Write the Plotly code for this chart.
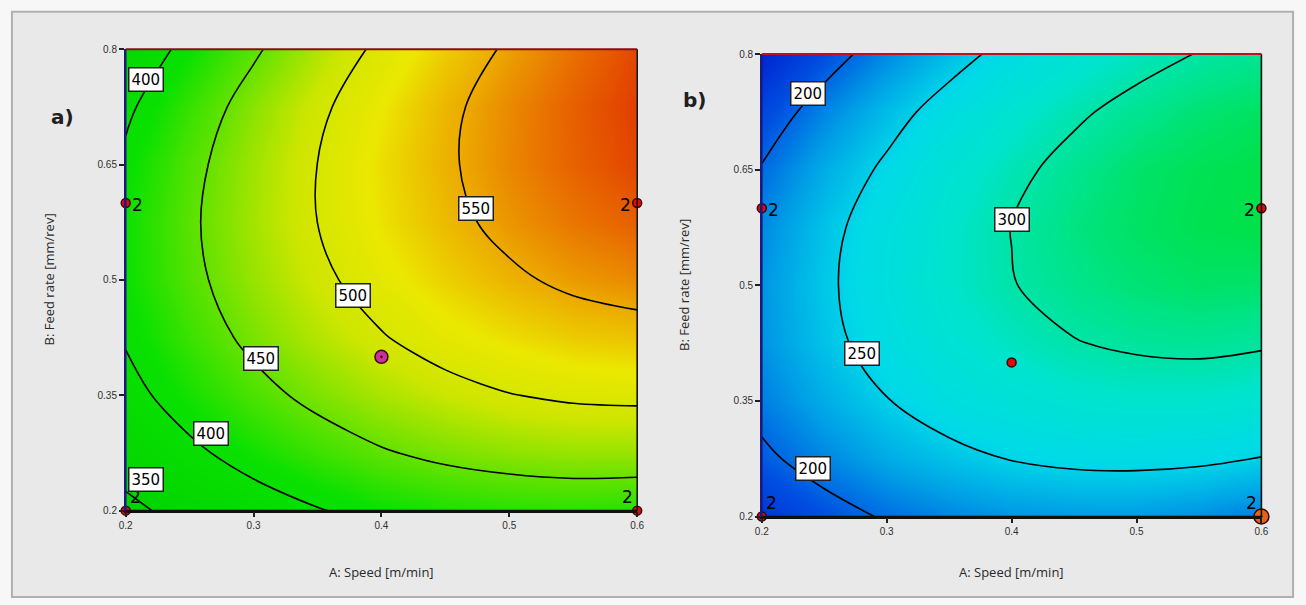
import plotly.graph_objects as go

# ---------------- data ----------------
A_LEVELS = [0.2, 0.25, 0.3, 0.35, 0.4, 0.45, 0.5, 0.55, 0.6]          # A: Speed [m/min]
B_LEVELS = [0.2, 0.275, 0.35, 0.425, 0.5, 0.575, 0.65, 0.725, 0.8]     # B: Feed rate [mm/rev]

# response a) – rows follow B_LEVELS, columns follow A_LEVELS
Z_LEFT = [
    [341, 363, 383, 398, 411, 419, 424, 426, 424],
    [368, 393, 414, 432, 447, 458, 465, 469, 469],
    [389, 416, 439, 459, 476, 489, 499, 505, 507],
    [403, 432, 458, 480, 498, 514, 525, 534, 538],
    [411, 442, 469, 493, 514, 531, 545, 556, 563],
    [412, 445, 474, 500.1, 523, 542, 558, 571, 580],
    [406, 441, 472, 500.2, 525, 546, 564, 579, 590],
    [394, 430, 464, 494, 520, 544, 563, 580, 593],
    [375, 410, 445, 478, 507, 533, 554, 573, 589],
]

# response b)
Z_RIGHT = [
    [170, 188, 203, 213, 220, 223, 223, 218, 210],
    [194, 213, 230, 242, 251, 256, 257, 255, 249],
    [210, 231, 249, 264, 274, 281, 284, 284, 280],
    [219, 242, 262, 278, 290, 299, 304, 306, 303],
    [220, 245, 267, 285, 299, 309, 316, 320, 319],
    [215, 242, 265, 284, 300.5, 313, 321, 326, 328],
    [202, 231, 255, 277, 294, 308, 319, 325, 328],
    [183, 213, 239, 262, 281, 296, 308, 317, 322],
    [156, 187, 215, 239, 260, 277, 291, 301, 308],
]

X_TICKS = [0.2, 0.3, 0.4, 0.5, 0.6]
X_TICK_TEXT = ["0.2", "0.3", "0.4", "0.5", "0.6"]
Y_TICKS = [0.2, 0.35, 0.5, 0.65, 0.8]
Y_TICK_TEXT = ["0.2", "0.35", "0.5", "0.65", "0.8"]

# design points
DESIGN_A = [0.2, 0.6, 0.4, 0.2, 0.6]
DESIGN_B = [0.6, 0.6, 0.4, 0.2, 0.2]
REPLICATES = ["2", "2", "", "2", "2"]

# contour labels: value, A, B
LEFT_LABELS_VAL = ["400", "550", "500", "450", "400", "350"]
LEFT_LABELS_A = [0.216, 0.474, 0.378, 0.306, 0.267, 0.216]
LEFT_LABELS_B = [0.760, 0.593, 0.480, 0.398, 0.300, 0.240]
RIGHT_LABELS_VAL = ["200", "300", "250", "200"]
RIGHT_LABELS_A = [0.237, 0.400, 0.280, 0.241]
RIGHT_LABELS_B = [0.749, 0.586, 0.411, 0.262]

# ---------------- styling ----------------
W, H = 1306, 605
LEFT_CS = [[0, 'rgb(0,210,0)'], [0.28, 'rgb(10,225,0)'], [0.43, 'rgb(100,226,0)'],
           [0.59, 'rgb(205,230,0)'], [0.71, 'rgb(235,232,0)'], [0.83, 'rgb(236,168,0)'],
           [0.93, 'rgb(232,105,0)'], [1, 'rgb(225,60,0)']]
RIGHT_CS = [[0, 'rgb(0,35,210)'], [0.2, 'rgb(0,80,225)'], [0.4, 'rgb(0,160,230)'],
            [0.57, 'rgb(0,218,232)'], [0.75, 'rgb(0,228,205)'], [0.89, 'rgb(0,228,140)'],
            [1, 'rgb(0,225,70)']]

def px(xp):
    return xp / W

def py(yp):
    return 1 - yp / H

fig = go.Figure()

fig.add_trace(go.Contour(
    x=A_LEVELS, y=B_LEVELS, z=Z_LEFT, xaxis='x', yaxis='y',
    colorscale=LEFT_CS, zmin=340, zmax=594, showscale=False,
    contours=dict(start=350, end=550, size=50, coloring='heatmap', showlines=True),
    line=dict(color='black', width=1.6, smoothing=1.0), hoverinfo='skip'))

fig.add_trace(go.Contour(
    x=A_LEVELS, y=B_LEVELS, z=Z_RIGHT, xaxis='x2', yaxis='y2',
    colorscale=RIGHT_CS, zmin=155, zmax=329, showscale=False,
    contours=dict(start=200, end=300, size=50, coloring='heatmap', showlines=True),
    line=dict(color='black', width=1.6, smoothing=1.0), hoverinfo='skip'))

# design points
left_colors = ['#e00a0a', '#e00a0a', '#c8309a', '#e00a0a', '#e00a0a']
left_sizes = [9, 9, 13, 9, 9]
left_symbols = ['circle', 'circle', 'circle-dot', 'circle', 'circle']
fig.add_trace(go.Scatter(x=DESIGN_A, y=DESIGN_B, mode='markers', xaxis='x', yaxis='y',
                         marker=dict(color=left_colors, size=left_sizes, symbol=left_symbols, opacity=1,
                                     line=dict(color='#3a0a0a', width=1.5)),
                         cliponaxis=False, hoverinfo='skip', showlegend=False))
right_colors = ['#e00a0a', '#e00a0a', '#e00a0a', '#e00a0a', '#e8601a']
right_sizes = [9, 9, 9, 9, 15]
right_symbols = ['circle', 'circle', 'circle', 'circle', 'circle-dot']
fig.add_trace(go.Scatter(x=DESIGN_A, y=DESIGN_B, mode='markers', xaxis='x2', yaxis='y2',
                         marker=dict(color=right_colors, size=right_sizes, symbol=right_symbols, opacity=1,
                                     line=dict(color='#2a0a0a', width=1.5)),
                         cliponaxis=False, hoverinfo='skip', showlegend=False))

annotations = []
shapes = []

# outer frame
shapes.append(dict(type='rect', xref='paper', yref='paper', x0=px(5), x1=px(1300), y0=py(603), y1=py(7),
                   line=dict(color='#b0b0b0', width=2), fillcolor='#e9e9e9', layer='below'))

# axis domains (pixels)
LEFT_BOX = (120, 637, 45, 515)
RIGHT_BOX = (763, 1268, 50, 521)

axis_common = dict(showgrid=False, zeroline=False, ticks='outside', ticklen=5, tickwidth=1.5,
                   tickcolor='#202020', showline=True, linewidth=1.5,
                   tickfont=dict(family='Liberation Sans', size=10, color='#303030'))

for suffix, box, ref in [('', LEFT_BOX, ('x', 'y')), ('2', RIGHT_BOX, ('x2', 'y2'))]:
    x0, x1, y0, y1 = box
    fig.layout['xaxis' + suffix] = dict(domain=[px(x0), px(x1)], range=[0.2, 0.6], anchor='y' + suffix,
                                        tickvals=X_TICKS, ticktext=X_TICK_TEXT, linecolor='#101010',
                                        **axis_common)
    fig.layout['yaxis' + suffix] = dict(domain=[py(y1), py(y0)], range=[0.2, 0.8], anchor='x' + suffix,
                                        tickvals=Y_TICKS, ticktext=Y_TICK_TEXT, linecolor='#1a1a80',
                                        **axis_common)
    # borders drawn on top of the heatmap
    shapes.append(dict(type='line', xref=ref[0] + ' domain', yref=ref[1] + ' domain', x0=1, x1=1, y0=0, y1=1,
                       line=dict(color='#101010', width=1.6)))
    shapes.append(dict(type='line', xref=ref[0] + ' domain', yref=ref[1] + ' domain', x0=0, x1=1, y0=0, y1=0,
                       line=dict(color='#101010', width=1.8)))
    shapes.append(dict(type='line', xref=ref[0] + ' domain', yref=ref[1] + ' domain', x0=0, x1=0, y0=0, y1=1,
                       line=dict(color='#1a1a80', width=1.6)))
    shapes.append(dict(type='line', xref=ref[0] + ' domain', yref=ref[1] + ' domain', x0=0, x1=1, y0=1, y1=1,
                       line=dict(color='#8a1010' if suffix == '' else '#c01020', width=2)))
    # axis titles
    annotations.append(dict(xref='paper', yref='paper', x=(px(x0) + px(x1)) / 2, y=py(578),
                            text='A: Speed [m/min]', showarrow=False,
                            font=dict(family='Open Sans', size=13, color='#2a2a2a'),
                            xanchor='center', yanchor='middle'))
    annotations.append(dict(xref='paper', yref='paper', x=px(x0 - 78), y=(py(y0) + py(y1)) / 2,
                            text='B: Feed rate [mm/rev]', showarrow=False, textangle=-90,
                            font=dict(family='Open Sans', size=13, color='#2a2a2a'),
                            xanchor='center', yanchor='middle'))
    # replicate labels
    shifts = [(12, -2), (-12, -2), (0, 0), (10, 14), (-10, 14)]
    for a, b, t, (dx, dy) in zip(DESIGN_A, DESIGN_B, REPLICATES, shifts):
        if t:
            annotations.append(dict(xref=ref[0], yref=ref[1], x=a, y=b, text=t, showarrow=False,
                                    xshift=dx, yshift=dy,
                                    font=dict(family='DejaVu Sans', size=17, color='black')))

# contour labels
for vals, aa, bb, xr, yr in [(LEFT_LABELS_VAL, LEFT_LABELS_A, LEFT_LABELS_B, 'x', 'y'),
                             (RIGHT_LABELS_VAL, RIGHT_LABELS_A, RIGHT_LABELS_B, 'x2', 'y2')]:
    for v, a, b in zip(vals, aa, bb):
        annotations.append(dict(xref=xr, yref=yr, x=a, y=b, text=v, showarrow=False,
                                bgcolor='white', bordercolor='#202020', borderwidth=1.5, borderpad=2,
                                font=dict(family='DejaVu Sans', size=15, color='black')))

# panel letters
annotations.append(dict(xref='paper', yref='paper', x=px(42), y=py(100), text='<b>a)</b>', showarrow=False,
                        font=dict(family='DejaVu Sans', size=20, color='#202020')))
annotations.append(dict(xref='paper', yref='paper', x=px(695), y=py(82), text='<b>b)</b>', showarrow=False,
                        font=dict(family='DejaVu Sans', size=20, color='#202020')))

fig.update_layout(width=W, height=H, margin=dict(l=0, r=0, t=0, b=0),
                  paper_bgcolor='#f7f7f7', plot_bgcolor='#e9e9e9',
                  showlegend=False, annotations=annotations, shapes=shapes)

fig.write_html("out.html")
